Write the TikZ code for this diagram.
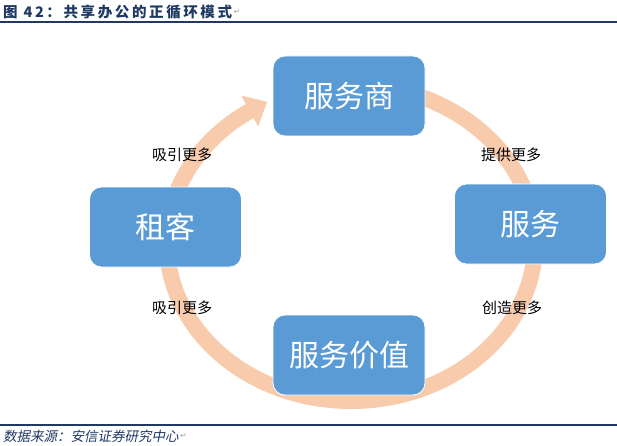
\documentclass[tikz,border=0pt]{standalone}
\usepackage{fontspec}
\usepackage{xcolor}
\usepackage{tikz}
\usetikzlibrary{positioning, shapes, arrows.meta, bending}

\newfontfamily\cjk{Noto Sans CJK SC}
\newfontfamily\cjkslant[FakeSlant=0.2]{Noto Sans CJK SC}
\newfontfamily\symfont{DejaVu Sans}

\definecolor{boxblue}{HTML}{5B9BD5}
\definecolor{arcpeach}{HTML}{F8CBAD}
\definecolor{titleblue}{HTML}{1F3864}

\begin{document}
\begin{tikzpicture}[
    x=1pt, y=1pt,
    stage/.style={rectangle, rounded corners=12pt, fill=boxblue, draw=white, line width=0.8pt,
        minimum width=152pt, minimum height=80pt, text=white, font=\cjk\fontsize{30}{30}\selectfont},
    cyclelabel/.style={inner sep=0pt, font=\cjk\fontsize{15}{15}\selectfont},
    parmark/.style={inner sep=0pt, text=gray!70, font=\symfont\fontsize{8}{8}\selectfont},
    >=Stealth
]
\useasboundingbox (0,0) rectangle (617,445);

% title and rules
\node[anchor=west, inner sep=0pt, text=titleblue,
      font=\cjk\bfseries\fontsize{14.5}{14.5}\selectfont\addfontfeature{LetterSpace=18}] (title) at (3,433) {图 42：共享办公的正循环模式};
\node[parmark, right=1pt of title] (titlemark) {↵};
\draw[titleblue, line width=1.5pt] (0,423) -- (617,423);
\draw[titleblue, line width=1.2pt] (0,20) -- (617,20);

\node[anchor=west, inner sep=0pt, text=titleblue,
      font=\cjkslant\fontsize{13.5}{13.5}\selectfont] (source) at (3,9) {数据来源：安信证券研究中心};
\node[parmark, right=1pt of source] (sourcemark) {↵};

% the cycle
\coordinate (cyc) at (351,202);
\draw[arcpeach, line width=16pt, -{Triangle[width=34pt, length=20pt, bend]}]
    ([shift={(90:184pt and 158pt)}]cyc) arc[start angle=90, end angle=-243, x radius=184pt, y radius=158pt];

\node[stage] (provider) at (349,349) {服务商};
\node[stage] (service) at (530.5,221) {服务};
\node[stage] (tenant) at (165.5,218) {租客};
\node[stage] (value) at (349,90) {服务价值};

\node[cyclelabel] (attracttop) at (182,290) {吸引更多};
\node[cyclelabel] (offer) at (511,290) {提供更多};
\node[cyclelabel] (attractlow) at (182,137) {吸引更多};
\node[cyclelabel] (create) at (512,137) {创造更多};

\end{tikzpicture}
\end{document}
